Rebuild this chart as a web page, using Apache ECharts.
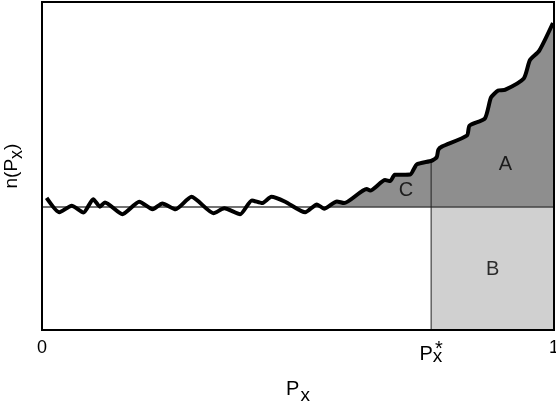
<!DOCTYPE html>
<html>
<head>
<meta charset="utf-8">
<script src="https://cdn.jsdelivr.net/npm/echarts@6/dist/echarts.min.js"></script>
<style>
  html, body { margin: 0; padding: 0; background: #fff; }
  #chart { width: 556px; height: 402px; }
</style>
</head>
<body>
<div id="chart"></div>
<script>
// n(Px) curve (x: 0..1, y: 0..100)
const curveX = [0.009, 0.034, 0.058, 0.081, 0.100, 0.113, 0.123, 0.157, 0.190, 0.216,
  0.235, 0.261, 0.292, 0.335, 0.356, 0.387, 0.410, 0.430, 0.448, 0.475,
  0.514, 0.537, 0.551, 0.576, 0.590, 0.634, 0.641, 0.670, 0.680, 0.689,
  0.719, 0.732, 0.761, 0.771, 0.774, 0.781, 0.830, 0.835, 0.865, 0.877,
  0.891, 0.904, 0.941, 0.953, 0.971, 0.998]
const curveY = [40.3, 35.9, 37.9, 35.8, 39.9, 37.6, 38.9, 35.3, 39.1, 36.8,
  38.6, 36.8, 40.6, 35.6, 37.1, 35.3, 39.5, 38.7, 40.6, 39.1,
  35.9, 38.3, 37.0, 39.2, 38.7, 43.0, 42.5, 45.7, 45.4, 47.3,
  47.4, 50.5, 51.6, 52.7, 54.9, 55.9, 59.3, 62.3, 64.5, 70.9,
  73.0, 73.2, 76.7, 82.3, 85.1, 93.6]

const baseLevel = 37.5
const pStar = 0.76
const fillFrom = 0.55

const regionNames = ['A', 'B', 'C']
const regionX = [0.905, 0.88, 0.711]
const regionY = [50.5, 18.6, 42.4]

const font = "'Liberation Sans', Arial, sans-serif"

const curveData = curveX.map((x, i) => [x, curveY[i]])
const fillData = curveData.filter(d => d[0] >= fillFrom)

// height of the curve at P*
function curveAt(x) {
  for (let i = 1; i < curveX.length; i++) {
    if (curveX[i] >= x) {
      const t = (x - curveX[i - 1]) / (curveX[i] - curveX[i - 1])
      return curveY[i - 1] + t * (curveY[i] - curveY[i - 1])
    }
  }
  return curveY[curveY.length - 1]
}

const chart = echarts.init(document.getElementById('chart'))
const option = {
  animation: false,
  grid: {
    left: 42,
    right: 2,
    top: 2,
    bottom: 72,
    containLabel: false,
    outerBoundsMode: 'none',
    show: true,
    z: 10,
    borderColor: '#000',
    borderWidth: 2,
    backgroundColor: 'transparent'
  },
  xAxis: {
    type: 'value',
    min: 0,
    max: 1,
    name: '{p|P}{s|x}',
    nameLocation: 'middle',
    nameGap: 49,
    nameTextStyle: {
      rich: {
        p: { fontFamily: font, fontSize: 20, color: '#000', lineHeight: 20 },
        s: { fontFamily: font, fontSize: 19, color: '#000', lineHeight: 20, padding: [14, 0, 0, 1] }
      }
    },
    axisLine: { show: false },
    axisTick: { show: false },
    splitLine: { show: false },
    axisLabel: {
      customValues: [0, pStar, 1],
      margin: 9,
      fontFamily: font,
      fontSize: 18,
      color: '#000',
      formatter: function (v) {
        if (v === 0) return '0'
        if (v === 1) return '1'
        return '{p|P}{sx|x}{st|*}'
      },
      rich: {
        p: {
          align: 'left', verticalAlign: 'top', padding: [5, 0, 0, 0],
          fontFamily: font, fontSize: 20, lineHeight: 20, color: '#000'
        },
        sx: {
          align: 'left', verticalAlign: 'top', padding: [8, 0, 0, 0], width: 10,
          fontFamily: font, fontSize: 19, lineHeight: 20, color: '#000'
        },
        st: {
          align: 'right', verticalAlign: 'top', padding: [0, 0, 0, 0], width: 0.1,
          fontFamily: font, fontSize: 20, lineHeight: 6, color: '#000'
        }
      }
    }
  },
  yAxis: {
    type: 'value',
    min: 0,
    max: 100,
    name: 'n(P{s|x})',
    nameLocation: 'middle',
    nameGap: 16,
    nameTextStyle: {
      fontFamily: font,
      fontSize: 19,
      color: '#000',
      rich: {
        s: { fontFamily: font, fontSize: 18, color: '#000', padding: [10, 0, 0, 0] }
      }
    },
    axisLine: { show: false },
    axisTick: { show: false },
    axisLabel: { show: false },
    splitLine: { show: false }
  },
  series: [
    {
      name: 'fill',
      type: 'line',
      data: fillData,
      smooth: 0.2,
      symbol: 'none',
      lineStyle: { width: 0 },
      areaStyle: { color: '#8e8e8e', opacity: 1, origin: baseLevel },
      z: 1
    },
    {
      name: 'baseline',
      type: 'line',
      data: [[0, baseLevel], [1, baseLevel]],
      symbol: 'none',
      lineStyle: { color: '#444', width: 1.5 },
      markArea: {
        silent: true,
        itemStyle: { color: '#d0d0d0' },
        data: [[{ coord: [pStar, 0] }, { coord: [1, baseLevel] }]]
      },
      z: 2
    },
    {
      name: 'pstar',
      type: 'line',
      data: [[pStar, 0], [pStar, curveAt(pStar)]],
      symbol: 'none',
      lineStyle: { color: '#222', width: 1 },
      z: 3
    },
    {
      name: 'curve',
      type: 'line',
      data: curveData,
      smooth: 0.2,
      symbol: 'none',
      lineStyle: { color: '#000', width: 4 },
      z: 4
    },
    {
      name: 'regions',
      type: 'scatter',
      symbolSize: 0,
      data: regionNames.map((n, i) => ({ name: n, value: [regionX[i], regionY[i]] })),
      label: {
        show: true,
        position: 'inside',
        formatter: '{b}',
        fontFamily: font,
        fontSize: 20,
        color: '#000'
      },
      z: 5
    }
  ]
}
chart.setOption(option)
</script>
</body>
</html>
